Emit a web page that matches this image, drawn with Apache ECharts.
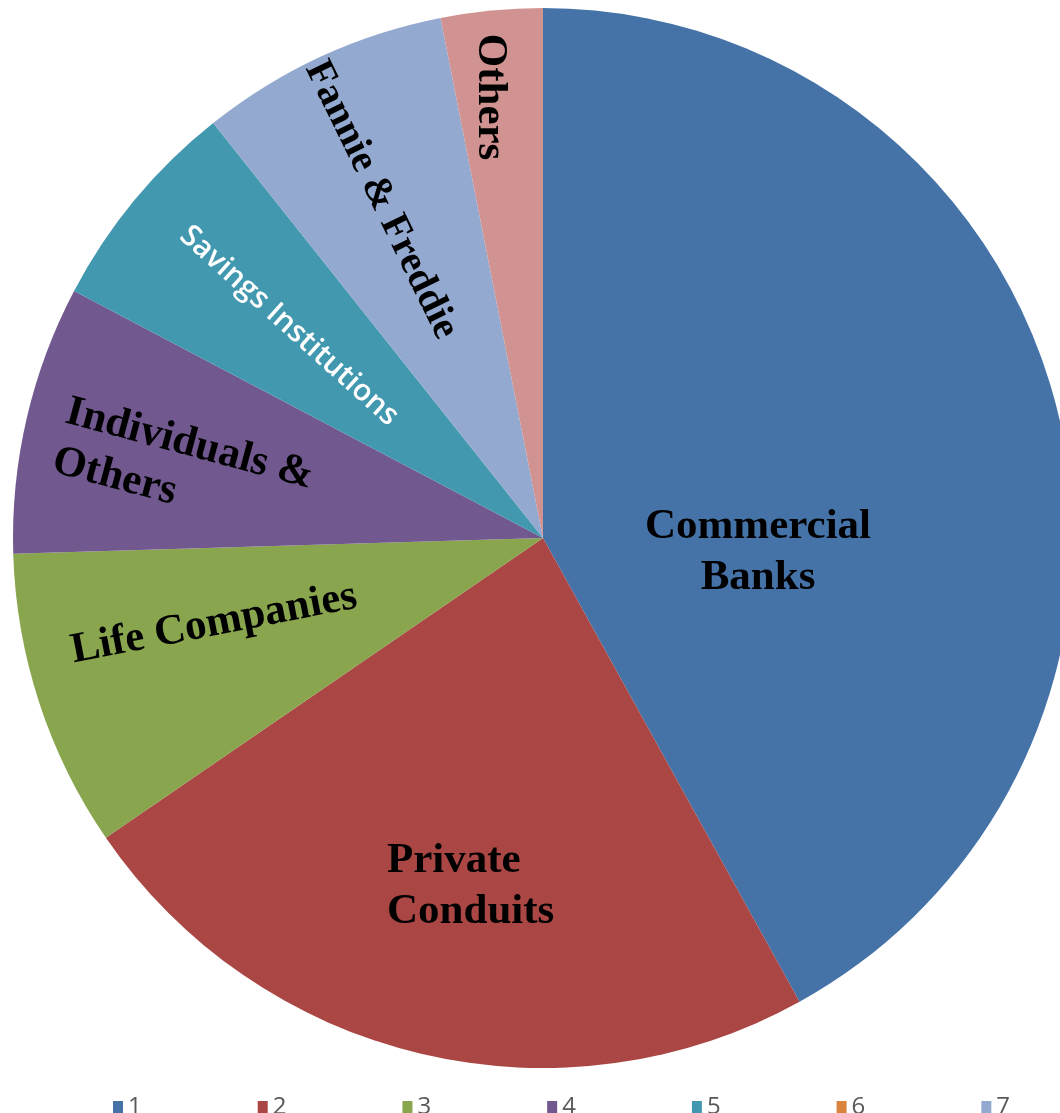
<!DOCTYPE html>
<html>
<head>
<meta charset="utf-8">
<script src="https://cdn.jsdelivr.net/npm/echarts@6/dist/echarts.min.js"></script>
<style>
  html, body { margin: 0; padding: 0; background: #fff; }
  #chart { width: 1060px; height: 1113px; }
</style>
</head>
<body>
<div id="chart"></div>
<script>
// series ids as in the legend (6 has no slice, 8 is not listed)
const ids = ["1", "2", "3", "4", "5", "6", "7", "8"];
const labels = ["Commercial\nBanks", "Private\nConduits", "Life Companies", "Individuals &\nOthers",
  "Savings Institutions", "", "Fannie & Freddie", "Others"];
const shares = [42.0, 23.5, 9.1, 8.2, 6.6, 0, 7.6, 3.1];
const colors = ["#4572a7", "#aa4643", "#89a54e", "#71588f", "#4198af", "#db843d", "#93a9cf", "#d19392"];
const legendIds = ["1", "2", "3", "4", "5", "6", "7"];

// label placement: [x, y, rotate, align]
const labelPos = [
  [758, 552, 0, "center"],
  [387, 886, 0, "left"],
  [214, 624, 11, "center"],
  [60, 436, -15, "left"],
  [289, 326, -42, "center"],
  [0, 0, 0, "center"],
  [381, 200, -64, "center"],
  [490, 97, -90, "center"],
];

const serifLabel = {
  color: "#000",
  fontFamily: "Liberation Serif",
  fontWeight: "bold",
  fontSize: 43,
  lineHeight: 51,
};

const chart = echarts.init(document.getElementById("chart"));
chart.setOption({
  backgroundColor: "#fff",
  animation: false,
  color: colors,
  legend: {
    data: legendIds,
    left: 108,
    top: 1090,
    icon: "rect",
    itemWidth: 10,
    itemHeight: 12,
    itemGap: 116,
    textStyle: { color: "#595959", fontSize: 24, fontFamily: "Liberation Sans Narrow, Open Sans" },
  },
  series: [
    {
      type: "pie",
      center: [543, 538],
      radius: 530,
      startAngle: 90,
      clockwise: true,
      silent: true,
      itemStyle: { borderWidth: 0 },
      label: {
        show: true,
        position: "inside",
        formatter: (p) => labels[p.dataIndex],
        ...serifLabel,
      },
      labelLine: { show: false },
      labelLayout: (p) => {
        const lp = labelPos[p.dataIndex];
        return { x: lp[0], y: lp[1], rotate: lp[2], align: lp[3], verticalAlign: "middle" };
      },
      data: ids.map((id, i) => {
        const item = { name: id, value: shares[i] };
        if (shares[i] === 0) item.label = { show: false };
        if (i === 4) {
          item.label = {
            color: "#fff",
            fontFamily: "Open Sans",
            fontWeight: 600,
            fontSize: 30,
            lineHeight: 34,
          };
        }
        if (i === 6) item.label = { fontSize: 40 };
        return item;
      }),
    },
  ],
});
</script>
</body>
</html>
